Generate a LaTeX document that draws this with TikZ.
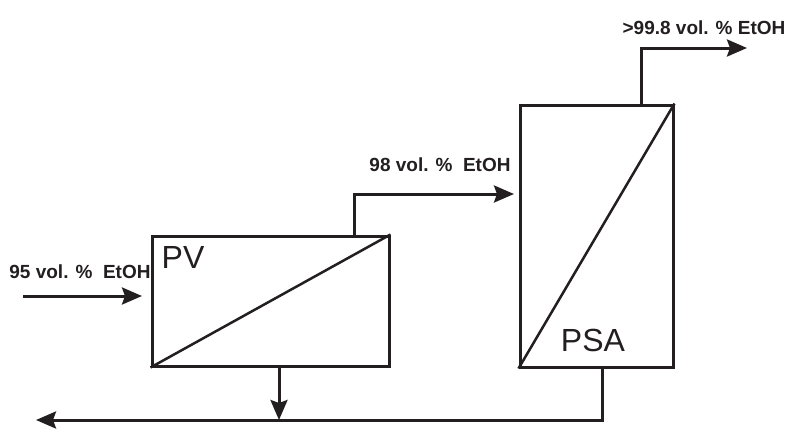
\documentclass[tikz,border=0pt]{standalone}
\usepackage{fontspec}
\setmainfont{Liberation Sans}
\usetikzlibrary{arrows.meta}
\definecolor{ink}{HTML}{231F20}
\tikzset{
  unit/.style={draw=ink, line width=3pt, minimum width=#1, inner sep=0pt},
  flow/.style={draw=ink, line width=3pt, -{Stealth[length=20pt,width=17pt,inset=3pt]}},
  plainflow/.style={draw=ink, line width=3pt},
  diag/.style={draw=ink, line width=2.5pt},
  lbl/.style={text=ink, font=\fontsize{19}{19}\selectfont\bfseries, inner sep=0pt},
  ulbl/.style={text=ink, font=\fontsize{32}{32}\selectfont, inner sep=0pt}
}
\begin{document}
\begin{tikzpicture}[x=1pt,y=-1pt]
\useasboundingbox (0,0) rectangle (788,429);
% units
\node[unit=237pt, minimum height=130pt] (pv) at (270.5,301) {};
\node[unit=153pt, minimum height=262pt] (psa) at (596.5,236) {};
\draw[diag] (pv.south west) -- (pv.north east);
\draw[diag] (psa.south west) -- (psa.north east);
\node[ulbl] (pvl) at (183,257) {PV};
\node[ulbl] (psal) at (593,340) {PSA};
% coordinates
\coordinate (in) at (23,296);
\coordinate (pvin) at (142,296);
\coordinate (pvtop) at (354,236);
\coordinate (pvtopc) at (354,194);
\coordinate (psain) at (514,194);
\coordinate (psatop) at (641,105);
\coordinate (psatopc) at (641,48);
\coordinate (prod) at (747,48);
\coordinate (pvbot) at (279,366);
\coordinate (join) at (279,420);
\coordinate (psabot) at (602,367);
\coordinate (psabotc) at (602,420);
\coordinate (out) at (36,420);
% flows
\draw[flow] (in) -- (pvin);
\draw[flow] (pvtop) -- (pvtopc) -- (psain);
\draw[flow] (psatop) -- (psatopc) -- (prod);
\draw[flow] (pvbot) -- (join);
\draw[flow] (psabot) -- (psabotc) -- (out);
% labels
\node[lbl] (l95) at (80,272) {95 vol. \%\ \ EtOH};
\node[lbl] (l98) at (440,165) {98 vol. \%\ \ EtOH};
\node[lbl] (l998) at (704,28) {>99.8 vol. \% EtOH};
\end{tikzpicture}
\end{document}
